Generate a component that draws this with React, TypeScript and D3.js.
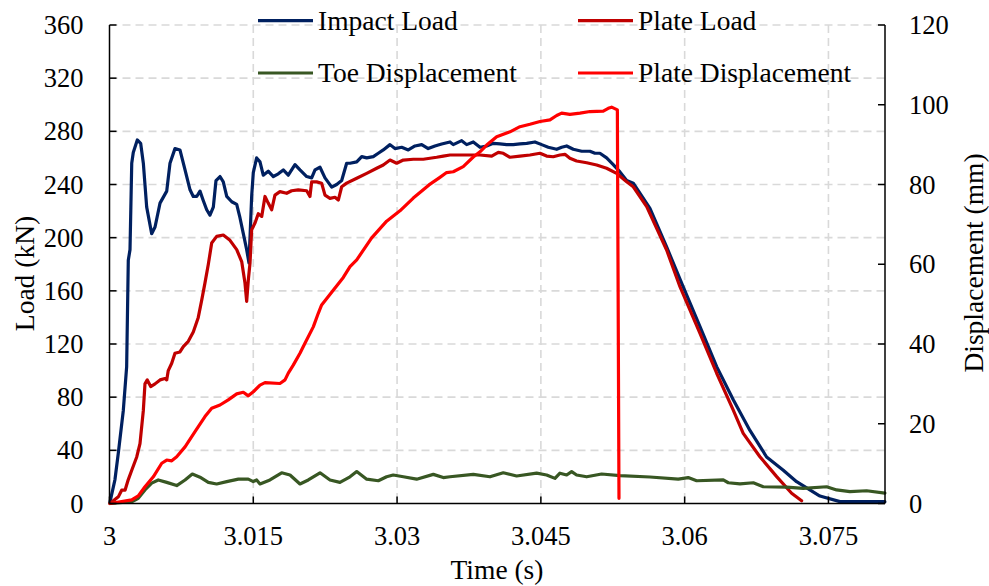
import * as d3 from "d3";

// time ticks (s), load ticks (kN), displacement ticks (mm)
const timeTicks = [3, 3.015, 3.03, 3.045, 3.06, 3.075];
const loadTicks = [0, 40, 80, 120, 160, 200, 240, 280, 320, 360];
const dispTicks = [0, 20, 40, 60, 80, 100, 120];

// [time s, load kN]
const impactLoad: [number, number][] = [
  [3.00005, 1], [3.00057, 18], [3.00092, 38], [3.00144, 70], [3.00179, 103], [3.00196, 183],
  [3.00214, 191], [3.00232, 256], [3.00248, 264], [3.0029, 273.5], [3.00325, 271], [3.00353, 256],
  [3.00388, 223], [3.0044, 203], [3.00475, 208], [3.00527, 226], [3.00597, 235], [3.00631, 256],
  [3.00683, 267], [3.00735, 266], [3.00788, 251], [3.0084, 236], [3.00874, 231], [3.0091, 231],
  [3.00944, 235], [3.00978, 228], [3.01014, 221], [3.01048, 217], [3.01083, 223], [3.01111, 243],
  [3.01153, 246], [3.01187, 242], [3.01223, 231], [3.01275, 227], [3.01327, 225], [3.01361, 215],
  [3.01396, 203], [3.01431, 191], [3.01455, 181], [3.01483, 231], [3.015, 249], [3.01535, 260],
  [3.0157, 257], [3.01604, 247], [3.01656, 250], [3.01709, 246], [3.01761, 248], [3.01813, 251],
  [3.01865, 247], [3.01935, 255], [3.01987, 251], [3.02057, 246], [3.02109, 245], [3.02144, 251],
  [3.02196, 253], [3.02248, 245], [3.02318, 238], [3.0237, 240], [3.02422, 243], [3.02474, 256],
  [3.02509, 256], [3.02579, 257], [3.02631, 261], [3.02683, 260], [3.02752, 261], [3.02804, 263.5],
  [3.02856, 266], [3.02926, 270], [3.02978, 267], [3.03048, 268], [3.03117, 266], [3.03187, 269],
  [3.03257, 270], [3.03325, 267], [3.03395, 269], [3.03465, 270.5], [3.03552, 272], [3.03586, 270],
  [3.03674, 273], [3.03726, 270], [3.03795, 272], [3.03865, 268], [3.03935, 269], [3.04003, 271],
  [3.04073, 270.5], [3.04143, 270], [3.04212, 270], [3.04282, 270.5], [3.04352, 271], [3.04438, 272],
  [3.04508, 270], [3.04577, 268], [3.04665, 266.5], [3.04717, 268], [3.04769, 269], [3.04838, 266.5],
  [3.04926, 265], [3.05012, 265], [3.05064, 263.5], [3.05116, 263.5], [3.05186, 260], [3.05255, 255],
  [3.05325, 249.5], [3.05395, 243], [3.05464, 241], [3.05638, 222], [3.05812, 193], [3.05985, 163],
  [3.0616, 133], [3.06334, 103], [3.06507, 78], [3.06681, 55], [3.06855, 35], [3.07029, 25],
  [3.07168, 16.4], [3.07411, 5.6], [3.0762, 1.4], [3.08089, 1.4],
];

const plateLoad: [number, number][] = [
  [3.00005, 0], [3.00092, 5], [3.00127, 10], [3.00162, 10], [3.00196, 18], [3.00232, 25],
  [3.00284, 35], [3.00318, 45], [3.00353, 70], [3.0037, 90], [3.00394, 93], [3.0043, 88],
  [3.00475, 90], [3.00527, 93], [3.00579, 94], [3.00597, 93], [3.00613, 100], [3.00649, 105.5],
  [3.00683, 113], [3.00735, 114], [3.0077, 118], [3.00822, 122], [3.00874, 129], [3.00926, 140],
  [3.00962, 153], [3.00996, 166], [3.01031, 180], [3.01066, 196], [3.01118, 201], [3.01187, 202],
  [3.01257, 198], [3.01327, 191], [3.01379, 182], [3.01413, 166], [3.01431, 152], [3.01448, 168],
  [3.01466, 181], [3.01483, 206], [3.01518, 211], [3.01552, 218], [3.01588, 216], [3.01622, 231],
  [3.01656, 226], [3.01692, 221], [3.01726, 232], [3.01778, 234.6], [3.01848, 233.4], [3.019, 235.3],
  [3.01969, 236], [3.02057, 235.3], [3.02091, 231], [3.02109, 242], [3.02161, 242], [3.02213, 241],
  [3.02248, 232], [3.023, 229.6], [3.02352, 230.4], [3.02387, 228.3], [3.02422, 238.3], [3.02474, 241],
  [3.02579, 244.7], [3.02683, 248.4], [3.02787, 252.2], [3.02856, 254.7], [3.02926, 258.4], [3.02996, 256],
  [3.03065, 258.4], [3.03169, 259], [3.03273, 259], [3.03413, 260.5], [3.03482, 261.4], [3.03552, 262.2],
  [3.0369, 262.2], [3.03865, 262.2], [3.03987, 261.4], [3.04056, 264.2], [3.04108, 263.5], [3.04178, 260.5],
  [3.04282, 261.4], [3.04386, 262.2], [3.04491, 263.5], [3.0456, 261.4], [3.04629, 260.9], [3.04699, 262.2],
  [3.04751, 262.7], [3.04803, 259.7], [3.04873, 257.7], [3.04978, 256.4], [3.05082, 254.7], [3.05186, 252.2],
  [3.0529, 248.4], [3.05395, 242.1], [3.05464, 238.3], [3.05604, 223.3], [3.05812, 190.7], [3.05951, 163.1],
  [3.0616, 128], [3.06334, 98], [3.06507, 70.3], [3.06611, 52.8], [3.06785, 35.2], [3.0696, 20.2],
  [3.07116, 7.7], [3.0722, 2.1],
];

// [time s, displacement mm]
const toeDisp: [number, number][] = [
  [3.00005, 0], [3.00232, 0.45], [3.003, 1.3], [3.0037, 3.4], [3.0044, 5.1], [3.00509, 5.9],
  [3.00597, 5.3], [3.00701, 4.5], [3.00788, 5.9], [3.00864, 7.4], [3.00944, 6.6], [3.01031, 5.3],
  [3.01118, 4.9], [3.01223, 5.5], [3.01344, 6.1], [3.01448, 6.1], [3.015, 5.5], [3.01535, 5.9],
  [3.0157, 4.9], [3.01674, 5.9], [3.01796, 7.7], [3.01883, 7.15], [3.01987, 4.9], [3.02074, 5.9],
  [3.02196, 7.7], [3.023, 5.9], [3.02404, 5.3], [3.02509, 6.7], [3.02579, 8.0], [3.02683, 6.1],
  [3.02804, 5.7], [3.02891, 6.7], [3.0296, 7.15], [3.03065, 6.7], [3.03204, 6.1], [3.03378, 7.3],
  [3.03482, 6.5], [3.03552, 6.7], [3.03795, 7.3], [3.03969, 6.7], [3.04108, 7.7], [3.04247, 6.9],
  [3.04456, 7.6], [3.0456, 7.15], [3.04647, 6.3], [3.04699, 7.6], [3.04769, 7.15], [3.04821, 8.0],
  [3.04873, 7.15], [3.04978, 6.7], [3.05134, 7.4], [3.05325, 7.0], [3.05638, 6.65], [3.05933, 6.1],
  [3.06037, 6.5], [3.06125, 5.7], [3.06403, 5.9], [3.06455, 5.2], [3.06577, 4.9], [3.06716, 5.2],
  [3.0682, 4.2], [3.07064, 4.1], [3.07237, 3.8], [3.07481, 4.2], [3.07585, 3.4], [3.07724, 3.0],
  [3.07898, 3.2], [3.08089, 2.6],
];

const plateDisp: [number, number][] = [
  [3.00005, 0], [3.00232, 0.9], [3.003, 1.9], [3.0037, 4.2], [3.00457, 6.7], [3.00545, 10.1],
  [3.00597, 10.9], [3.00649, 10.7], [3.00701, 11.7], [3.00788, 14.2], [3.00892, 18.0], [3.00996, 21.8],
  [3.01066, 23.9], [3.01153, 24.7], [3.01239, 26.0], [3.01327, 27.5], [3.01396, 27.9], [3.01448, 27.0],
  [3.015, 28.0], [3.0157, 29.7], [3.01622, 30.3], [3.01778, 30.1], [3.01831, 31.0], [3.01865, 32.7],
  [3.01917, 34.7], [3.01987, 37.7], [3.02039, 40.2], [3.02126, 44.3], [3.02178, 47.7], [3.02213, 49.8],
  [3.02334, 53.5], [3.02439, 56.7], [3.02509, 59.4], [3.02579, 61.1], [3.02735, 66.6], [3.02891, 70.8],
  [3.0303, 73.4], [3.03169, 76.6], [3.03333, 79.9], [3.03447, 81.8], [3.03517, 83.0], [3.03586, 83.2],
  [3.0369, 84.5], [3.03795, 86.9], [3.03865, 88.2], [3.03935, 89.9], [3.04039, 92.0], [3.04178, 93.2],
  [3.04282, 94.5], [3.04386, 95.1], [3.04491, 95.8], [3.04595, 96.2], [3.04665, 97.3], [3.04717, 97.9],
  [3.04803, 97.6], [3.04908, 97.9], [3.05012, 98.3], [3.05151, 98.4], [3.05203, 99.1], [3.05238, 99.4],
  [3.05298, 98.7], [3.05315, 1.3],
];

const W = 989;
const H = 586;
const margin = { top: 25, right: 104, bottom: 82.5, left: 109.5 };
const font = "'Liberation Serif', 'Times New Roman', serif";

export default function App() {
  const x = d3.scaleLinear().domain([3, 3.0809]).range([margin.left, W - margin.right]);
  const yL = d3.scaleLinear().domain([0, 360]).range([H - margin.bottom, margin.top]);
  const yR = d3.scaleLinear().domain([0, 120]).range([H - margin.bottom, margin.top]);

  const lineL = d3.line<[number, number]>().x(d => x(d[0])).y(d => yL(d[1]));
  const lineR = d3.line<[number, number]>().x(d => x(d[0])).y(d => yR(d[1]));

  const x0 = margin.left;
  const x1 = W - margin.right;
  const yb = H - margin.bottom;
  const yt = margin.top;

  const series = [
    { name: "Impact Load", color: "#002060", d: lineL(impactLoad) },
    { name: "Plate Load", color: "#C00000", d: lineL(plateLoad) },
    { name: "Toe Displacement", color: "#385723", d: lineR(toeDisp) },
    { name: "Plate Displacement", color: "#FF0000", d: lineR(plateDisp) },
  ];

  const legendPos = [
    [258, 20.7],
    [578, 20.7],
    [258, 73],
    [578, 73],
  ];

  return (
    <svg width={W} height={H} style={{ position: "absolute", left: 0, top: 0 }} fontFamily={font}>
      <rect width={W} height={H} fill="#fff" />
      {/* grid */}
      <g stroke="#d9d9d9" strokeWidth={1.6} strokeDasharray="8,5">
        {loadTicks.filter(v => v > 0).map(v => (
          <line key={"h" + v} x1={x0} x2={x1} y1={yL(v)} y2={yL(v)} />
        ))}
        {timeTicks.filter(v => v > 3).map(v => (
          <line key={"v" + v} x1={x(v)} x2={x(v)} y1={yt} y2={yb} />
        ))}
      </g>

      {/* series */}
      <g fill="none" strokeWidth={3.2} strokeLinejoin="round" strokeLinecap="round">
        {series.map(s => (
          <path key={s.name} d={s.d || ""} stroke={s.color} />
        ))}
      </g>

      {/* axes */}
      <g stroke="#000" strokeWidth={1.5}>
        <line x1={x0} x2={x0} y1={yt} y2={yb} />
        <line x1={x1} x2={x1} y1={yt} y2={yb} />
        <line x1={x0} x2={x1} y1={yb} y2={yb} />
        {loadTicks.map(v => (
          <line key={"lt" + v} x1={x0} x2={x0 + 7} y1={yL(v)} y2={yL(v)} />
        ))}
        {dispTicks.map(v => (
          <line key={"rt" + v} x1={x1 - 7} x2={x1} y1={yR(v)} y2={yR(v)} />
        ))}
        {timeTicks.map(v => (
          <line key={"xt" + v} x1={x(v)} x2={x(v)} y1={yb - 7} y2={yb} />
        ))}
      </g>

      <g fontSize={26.5} fill="#000">
        {loadTicks.map(v => (
          <text key={"ll" + v} x={x0 - 26} y={yL(v)} dy="0.34em" textAnchor="end">{v}</text>
        ))}
        {dispTicks.map(v => (
          <text key={"rl" + v} x={x1 + 24} y={yR(v)} dy="0.34em">{v}</text>
        ))}
        {timeTicks.map(v => (
          <text key={"xl" + v} x={x(v)} y={545} textAnchor="middle">{String(+v.toFixed(3))}</text>
        ))}
      </g>
      <g fontSize={27.5} fill="#000">
        <text x={497} y={579} textAnchor="middle">Time (s)</text>
        <text transform="translate(34,273.5) rotate(-90)" textAnchor="middle">Load (kN)</text>
        <text transform="translate(983,263) rotate(-90)" textAnchor="middle">Displacement (mm)</text>
      </g>

      {/* legend */}
      <g fontSize={27.5}>
        {series.map((s, i) => (
          <g key={"lg" + s.name}>
            <line x1={legendPos[i][0]} x2={legendPos[i][0] + 55} y1={legendPos[i][1]} y2={legendPos[i][1]}
              stroke={s.color} strokeWidth={3.2} />
            <text x={legendPos[i][0] + 60} y={legendPos[i][1]} dy="0.34em">{s.name}</text>
          </g>
        ))}
      </g>
    </svg>
  );
}
